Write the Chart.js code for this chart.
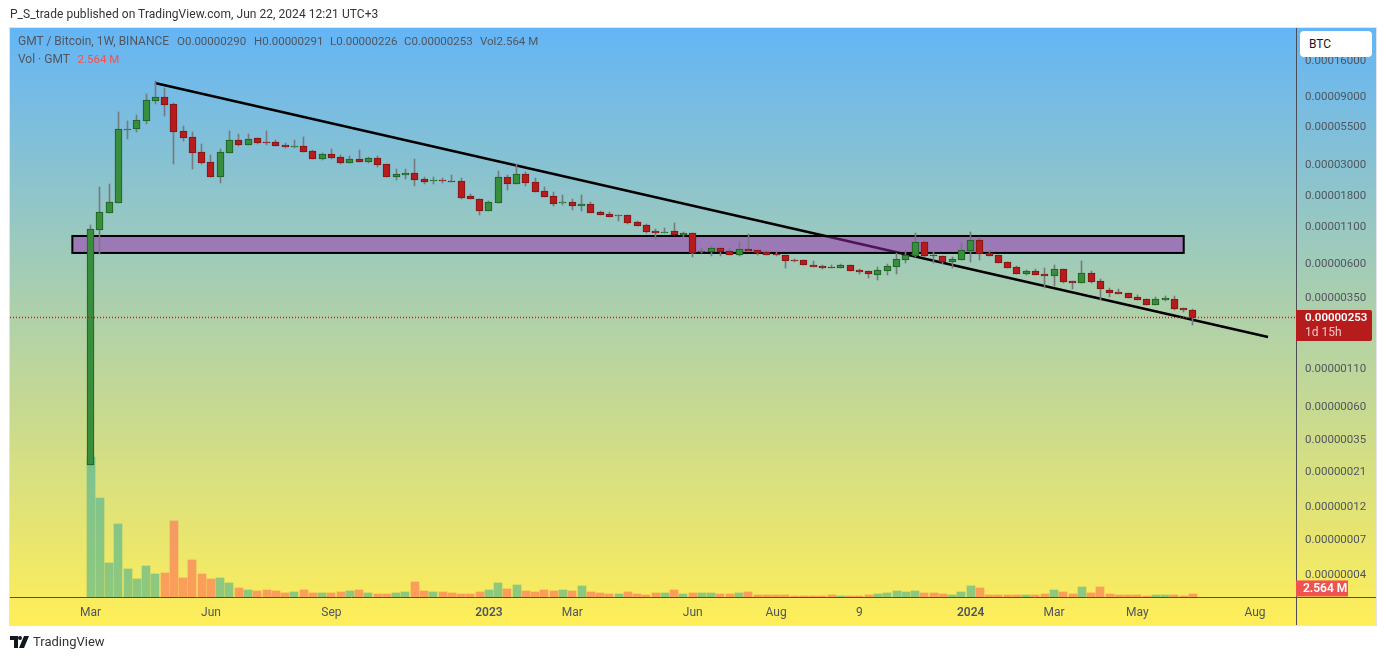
<!DOCTYPE html>
<html>
<head>
<meta charset="utf-8">
<title>GMT / Bitcoin, 1W</title>
<script src="https://cdn.jsdelivr.net/npm/chart.js@4/dist/chart.umd.js"></script>
<style>
    html, body { margin: 0; padding: 0; background: #fff; }
    body { position: relative; width: 1386px; height: 660px; overflow: hidden; font-family: Roboto, sans-serif; }
    canvas { position: absolute; left: 0; top: 0; }
    .txt { position: absolute; white-space: pre; font-size: 12px; line-height: 16px; }
    #published { left: 10px; top: 6px; color: #333; letter-spacing: 0.05px; }
    .leg { top: 33px; color: #50565f; font-size: 11.5px; }
    #legName { left: 18px; font-size: 12px; }
    #legOpen { left: 177px; }
    #legHigh { left: 254px; }
    #legLow { left: 330px; }
    #legClose { left: 404px; }
    #legVol { left: 480px; }
    #legend2 { left: 18px; top: 51px; color: #50565f; }
    #legend2 span { color: #ef5350; font-size: 11.5px; margin-left: 2px; }
    #btc { position: absolute; left: 1300px; top: 31px; width: 72px; height: 26px; background: #fff; border-radius: 4px;
           box-sizing: border-box; padding-left: 9px; font-size: 12px; line-height: 26px; color: #131722; }
    #brand { left: 33px; top: 634px; color: #333; font-size: 13px; }
    #logo { position: absolute; left: 10px; top: 636px; }
</style>
</head>
<body>
<canvas id="chart" width="1386" height="660"></canvas>
<div class="txt" id="published">P_S_trade published on TradingView.com, Jun 22, 2024 12:21 UTC+3</div>
<div class="txt leg" id="legName">GMT / Bitcoin, 1W, BINANCE</div>
<div class="txt leg" id="legOpen">O0.00000290</div>
<div class="txt leg" id="legHigh">H0.00000291</div>
<div class="txt leg" id="legLow">L0.00000226</div>
<div class="txt leg" id="legClose">C0.00000253</div>
<div class="txt leg" id="legVol">Vol2.564 M</div>
<div class="txt" id="legend2">Vol · GMT  <span>2.564 M</span></div>
<div id="btc">BTC</div>
<svg id="logo" width="20" height="12" viewBox="0 0 20 12"><path d="M0 0h8v12H4V4H0z M10 0a2 2 0 1 1 0 4a2 2 0 1 1 0-4z M14 0h5l-5 12H9z" fill="#131722"/></svg>
<div class="txt" id="brand">TradingView</div>
<script>
// Prices are in satoshi (1e-8 BTC), volume in millions of GMT. One entry per week.
const weekOpen = [
    23.6, 1053, 1385, 1628, 5269, 5380, 6121, 8456, 8930, 7982,
    5158, 4681, 3674, 3126, 2478, 3650, 4459, 4156, 4609, 4341,
    4317, 4136, 4022, 4049, 3734, 3314, 3560, 3389, 3106, 3283,
    3157, 3337, 3029, 2478, 2560, 2619, 2377, 2338, 2360, 2313,
    2300, 1806, 1721, 1431, 1628, 2454, 2214, 2577, 2263, 1957,
    1806, 1613, 1638, 1552, 1588, 1394, 1351, 1320, 1329, 1186,
    1131, 1026, 1003, 1026, 967, 994, 738, 738, 780, 743,
    704, 772, 755, 731, 712, 697, 648, 642, 592, 583,
    576, 570, 592, 547, 538, 510, 543, 579, 648, 692,
    859, 700, 686, 628, 648, 750, 887, 720, 697, 621,
    573, 518, 538, 513, 501, 556, 458, 443, 521, 458,
    395, 383, 377, 353, 342, 313, 339, 342, 296, 290
];
const weekHigh = [
    1136, 2098, 2193, 7047, 6094, 6683, 9425, 11564, 10381, 8110,
    5621, 5102, 4203, 3520, 3878, 5186, 4940, 4940, 4609, 5186,
    4483, 4250, 4483, 4704, 3815, 3617, 3878, 3520, 3463, 3815,
    3406, 3463, 3029, 2808, 2808, 3300, 2478, 2454, 2439, 2548,
    2427, 1866, 1721, 1674, 2704, 2548, 3043, 2675, 2439, 2098,
    1945, 1836, 1721, 1836, 1647, 1425, 1394, 1336, 1329, 1212,
    1154, 1066, 1082, 1173, 1015, 994, 788, 810, 780, 784,
    864, 983, 755, 743, 735, 697, 659, 642, 635, 595,
    592, 602, 592, 559, 538, 576, 605, 720, 759, 998,
    873, 735, 686, 678, 850, 1015, 931, 759, 697, 621,
    586, 550, 556, 567, 592, 556, 458, 632, 541, 473,
    408, 402, 377, 366, 342, 353, 359, 359, 296, 291
];
const weekLow = [
    23.6, 712, 1385, 1628, 4557, 5102, 5805, 8020, 6606, 3043,
    4412, 2808, 3043, 2478, 2238, 3650, 4089, 4156, 4223, 4136,
    4089, 3939, 3959, 3711, 3314, 3260, 3314, 3057, 3106, 3157,
    3106, 2912, 2478, 2350, 2389, 2133, 2203, 2203, 2238, 2276,
    1737, 1721, 1342, 1431, 1628, 1999, 2214, 2143, 1945, 1794,
    1552, 1577, 1454, 1431, 1385, 1342, 1299, 1217, 1160, 1123,
    1003, 911, 1003, 972, 940, 681, 723, 692, 692, 704,
    692, 743, 704, 704, 689, 567, 628, 598, 579, 559,
    570, 570, 543, 515, 483, 468, 507, 515, 617, 674,
    674, 617, 602, 567, 648, 625, 645, 692, 617, 570,
    518, 510, 510, 413, 425, 448, 404, 443, 448, 336,
    355, 374, 351, 339, 313, 313, 333, 289, 280, 226
];
const weekClose = [
    1060, 1394, 1638, 5329, 5329, 6159, 8508, 8930, 7929, 5125,
    4653, 3650, 3106, 2478, 3674, 4459, 4156, 4534, 4290, 4290,
    4089, 4002, 4069, 3711, 3314, 3560, 3369, 3106, 3283, 3157,
    3337, 3009, 2478, 2577, 2631, 2360, 2286, 2360, 2338, 2286,
    1766, 1721, 1431, 1638, 2454, 2214, 2577, 2249, 1945, 1794,
    1603, 1638, 1552, 1588, 1385, 1342, 1299, 1329, 1178, 1123,
    1020, 1003, 1015, 972, 994, 726, 747, 780, 738, 704,
    768, 750, 726, 704, 704, 638, 642, 598, 579, 570,
    570, 592, 543, 535, 513, 547, 583, 653, 697, 859,
    692, 692, 628, 653, 755, 887, 715, 692, 617, 570,
    518, 538, 510, 501, 556, 455, 443, 521, 455, 402,
    380, 374, 351, 339, 313, 342, 347, 294, 289, 253
];
const weekVolume = [
    140, 99, 34, 73, 28, 18, 31, 23, 24, 76,
    19, 37, 23, 18, 19, 14, 9, 7, 6, 7,
    6, 4, 5, 7, 4, 4, 4, 5, 6, 7,
    4, 3, 3, 4, 5, 15, 6, 5, 5, 4,
    3, 3.3, 5, 7, 14, 8, 12, 6, 5, 7,
    6, 7, 6, 11, 5, 4, 3, 3, 5, 3,
    2, 4, 4, 7, 3, 4, 4, 4, 3, 3,
    4, 5, 2.5, 2.5, 2.5, 2.5, 1.5, 1.5, 1.5, 1.5,
    2.5, 1.5, 1.5, 1.5, 2.5, 3, 4, 6, 5, 6,
    4, 4, 3, 2.5, 5, 11, 9, 2.5, 2.5, 2.5,
    2.5, 2.5, 2.5, 3, 7, 5, 3, 10, 4, 10,
    3.5, 2.5, 2.5, 2.5, 1.5, 2.5, 2.5, 2.5, 1.5, 2.564
];

// Axis labels: week index -> label, and the price ticks on the log axis
const xTickWeeks = [0, 13, 26, 43, 52, 65, 74, 83, 95, 104, 113, 125.7];
const xTickLabels = ['Mar', 'Jun', 'Sep', '2023', 'Mar', 'Jun', 'Aug', '9', '2024', 'Mar', 'May', 'Aug'];
const yTickValues = [16000, 9000, 5500, 3000, 1800, 1100, 600, 350, 110, 60, 35, 21, 12, 7, 4];

// Drawings on the chart (week index, price in satoshi)
const trendWeeks = [6.95, 127.1];
const trendPrices = [11249, 186];
const zoneWeeks = [-1.96, 118];
const zonePrices = [951, 723];
const lastPrice = 253;
const lastVolume = 2.564;

// Visible range of the axes
const X_MIN = -8.69;
const X_MAX = 130.12;
const Y_MIN = 2.79;
const Y_MAX = 27362;
const VOL_MAX = 569;

const GREEN_BODY = '#388e3c';
const GREEN_EDGE = '#1b5e20';
const RED_BODY = '#b71c1c';
const RED_EDGE = '#7f1414';
const WICK = '#787a80';
const TICK_COLOR = '#50565f';

const weeks = weekClose.map((c, i) => i);
const isUp = weeks.map(i => weekClose[i] >= weekOpen[i]);

// ------------------------------------------------------------------------
// Plugins
// ------------------------------------------------------------------------

// Panel background behind everything
const panelPlugin = {
    id: 'panel',
    beforeDraw(chart) {
        const c = chart.ctx;
        const g = c.createLinearGradient(0, 28, 0, 625);
        g.addColorStop(0, '#64b5f6');
        g.addColorStop(1, '#ffee58');
        c.fillStyle = g;
        c.fillRect(10, 28, 1366, 597);
        c.strokeStyle = '#e0e3eb';
        c.lineWidth = 1;
        c.strokeRect(9.5, 27.5, 1367, 598);
    }
};

// Snap bars and the dotted last-price line to whole pixels so they stay sharp
const crispPlugin = {
    id: 'crisp',
    beforeDatasetDraw(chart, args) {
        if (chart.data.datasets[args.index].label === 'Last') {
            args.meta.data.forEach(pt => { pt.y = Math.floor(pt.y) + 0.5; });
        }
        if (args.meta.type !== 'bar') return;
        args.meta.data.forEach(bar => {
            if (bar.width % 2 === 1) {
                bar.x = Math.floor(bar.x) + 0.5;
            } else {
                bar.x = Math.round(bar.x);
            }
            bar.y = Math.round(bar.y);
            bar.base = Math.round(bar.base);
            if (bar.base === bar.y) bar.base = bar.y + 1;
        });
    }
};

// Purple zone goes straight after the trend line, so the line shows through it
const zonePlugin = {
    id: 'zone',
    afterDatasetDraw(chart, args) {
        if (chart.data.datasets[args.index].label !== 'Trend') return;
        const c = chart.ctx;
        const x0 = chart.scales.x.getPixelForValue(zoneWeeks[0]);
        const x1 = chart.scales.x.getPixelForValue(zoneWeeks[1]);
        const y0 = chart.scales.y.getPixelForValue(zonePrices[0]);
        const y1 = chart.scales.y.getPixelForValue(zonePrices[1]);
        c.save();
        c.fillStyle = 'rgba(156, 39, 176, 0.5)';
        c.fillRect(x0, y0, x1 - x0, y1 - y0);
        c.strokeStyle = '#000';
        c.lineWidth = 2;
        c.strokeRect(x0, y0, x1 - x0, y1 - y0);
        c.restore();
    }
};

// Axis lines and the two value tags on the price axis
const axisPlugin = {
    id: 'axisTags',
    afterDraw(chart) {
        const c = chart.ctx;
        const area = chart.chartArea;
        c.save();
        c.strokeStyle = '#4a4d55';
        c.lineWidth = 1;
        c.beginPath();
        c.moveTo(area.right + 0.5, 28);
        c.lineTo(area.right + 0.5, 625);
        c.moveTo(10, area.bottom + 0.5);
        c.lineTo(1376, area.bottom + 0.5);
        c.stroke();

        const yLast = chart.scales.y.getPixelForValue(lastPrice);
        c.fillStyle = RED_BODY;
        c.beginPath();
        c.roundRect(area.right, yLast - 8, 76, 31, [0, 2, 2, 0]);
        c.fill();
        c.textBaseline = 'middle';
        c.textAlign = 'left';
        c.fillStyle = '#fff';
        c.font = '600 11.5px Roboto, sans-serif';
        c.fillText((lastPrice * 1e-8).toFixed(8), area.right + 9, yLast + 0.5);
        c.fillStyle = '#f0c4c4';
        c.font = '12px Roboto, sans-serif';
        c.fillText('1d 15h', area.right + 9, yLast + 15);

        const yVol = chart.scales.vol.getPixelForValue(lastVolume);
        c.fillStyle = '#ef5350';
        c.fillRect(area.right, yVol - 14, 52, 16);
        c.fillStyle = '#fff';
        c.font = '600 12px Roboto, sans-serif';
        c.fillText(lastVolume.toFixed(3) + ' M', area.right + 7, yVol - 5.5);
        c.restore();
    }
};

// ------------------------------------------------------------------------
// Chart
// ------------------------------------------------------------------------
function initChart() {
    const ctx = document.getElementById('chart');
    return new Chart(ctx, {
        data: {
            datasets: [
                {
                    type: 'line',
                    label: 'Last',
                    order: 1,
                    data: [{ x: X_MIN, y: lastPrice }, { x: X_MAX, y: lastPrice }],
                    borderColor: '#d31818',
                    borderWidth: 1.3,
                    borderDash: [1, 2],
                    pointRadius: 0
                },
                {
                    type: 'bar',
                    label: 'Body',
                    order: 2,
                    data: weeks.map(i => ({ x: i, y: [weekOpen[i], weekClose[i]] })),
                    backgroundColor: weeks.map(i => isUp[i] ? GREEN_BODY : RED_BODY),
                    borderColor: weeks.map(i => isUp[i] ? GREEN_EDGE : RED_EDGE),
                    borderWidth: 1,
                    borderSkipped: false,
                    barThickness: 7,
                    grouped: false
                },
                {
                    type: 'bar',
                    label: 'Wick',
                    order: 3,
                    data: weeks.map(i => ({ x: i, y: [weekLow[i], weekHigh[i]] })),
                    backgroundColor: WICK,
                    borderWidth: 0,
                    barThickness: 1,
                    grouped: false
                },
                {
                    type: 'line',
                    label: 'Trend',
                    order: 4,
                    data: trendWeeks.map((w, i) => ({ x: w, y: trendPrices[i] })),
                    borderColor: '#000',
                    borderWidth: 2.5,
                    pointRadius: 0
                },
                {
                    type: 'bar',
                    label: 'Volume',
                    order: 5,
                    yAxisID: 'vol',
                    data: weeks.map(i => ({ x: i, y: weekVolume[i] })),
                    backgroundColor: weeks.map(i => isUp[i] ? 'rgba(38, 166, 154, 0.5)' : 'rgba(255, 82, 82, 0.5)'),
                    borderWidth: 0,
                    barThickness: 8,
                    grouped: false
                }
            ]
        },
        options: {
            responsive: false,
            animation: false,
            layout: { padding: { left: 10, top: 28, right: 10, bottom: 35 } },
            plugins: {
                legend: { display: false },
                tooltip: { enabled: false }
            },
            scales: {
                x: {
                    type: 'linear',
                    offset: false,
                    min: X_MIN,
                    max: X_MAX,
                    grid: { display: false, offset: false, drawTicks: false },
                    border: { display: false },
                    afterBuildTicks: scale => {
                        scale.ticks = xTickWeeks.map(v => ({ value: v }));
                    },
                    afterFit: scale => { scale.height = 28; },
                    ticks: {
                        autoSkip: false,
                        maxRotation: 0,
                        padding: 9,
                        color: TICK_COLOR,
                        font: c => ({
                            family: 'Roboto, sans-serif',
                            size: 12,
                            weight: String(xTickLabels[c.index]).startsWith('20') ? '600' : '400'
                        }),
                        callback: (value, index) => xTickLabels[index]
                    }
                },
                y: {
                    type: 'logarithmic',
                    position: 'right',
                    min: Y_MIN,
                    max: Y_MAX,
                    grid: { display: false, drawTicks: false },
                    border: { display: false },
                    afterBuildTicks: scale => {
                        scale.ticks = yTickValues.map(v => ({ value: v }));
                    },
                    afterFit: scale => { scale.width = 80; },
                    ticks: {
                        autoSkip: false,
                        padding: 9,
                        color: TICK_COLOR,
                        font: { family: 'Roboto, sans-serif', size: 11.5 },
                        callback: value => (value * 1e-8).toFixed(8)
                    }
                },
                vol: {
                    type: 'linear',
                    display: false,
                    min: 0,
                    max: VOL_MAX
                }
            }
        },
        plugins: [panelPlugin, crispPlugin, zonePlugin, axisPlugin]
    });
}

initChart();
</script>
</body>
</html>
